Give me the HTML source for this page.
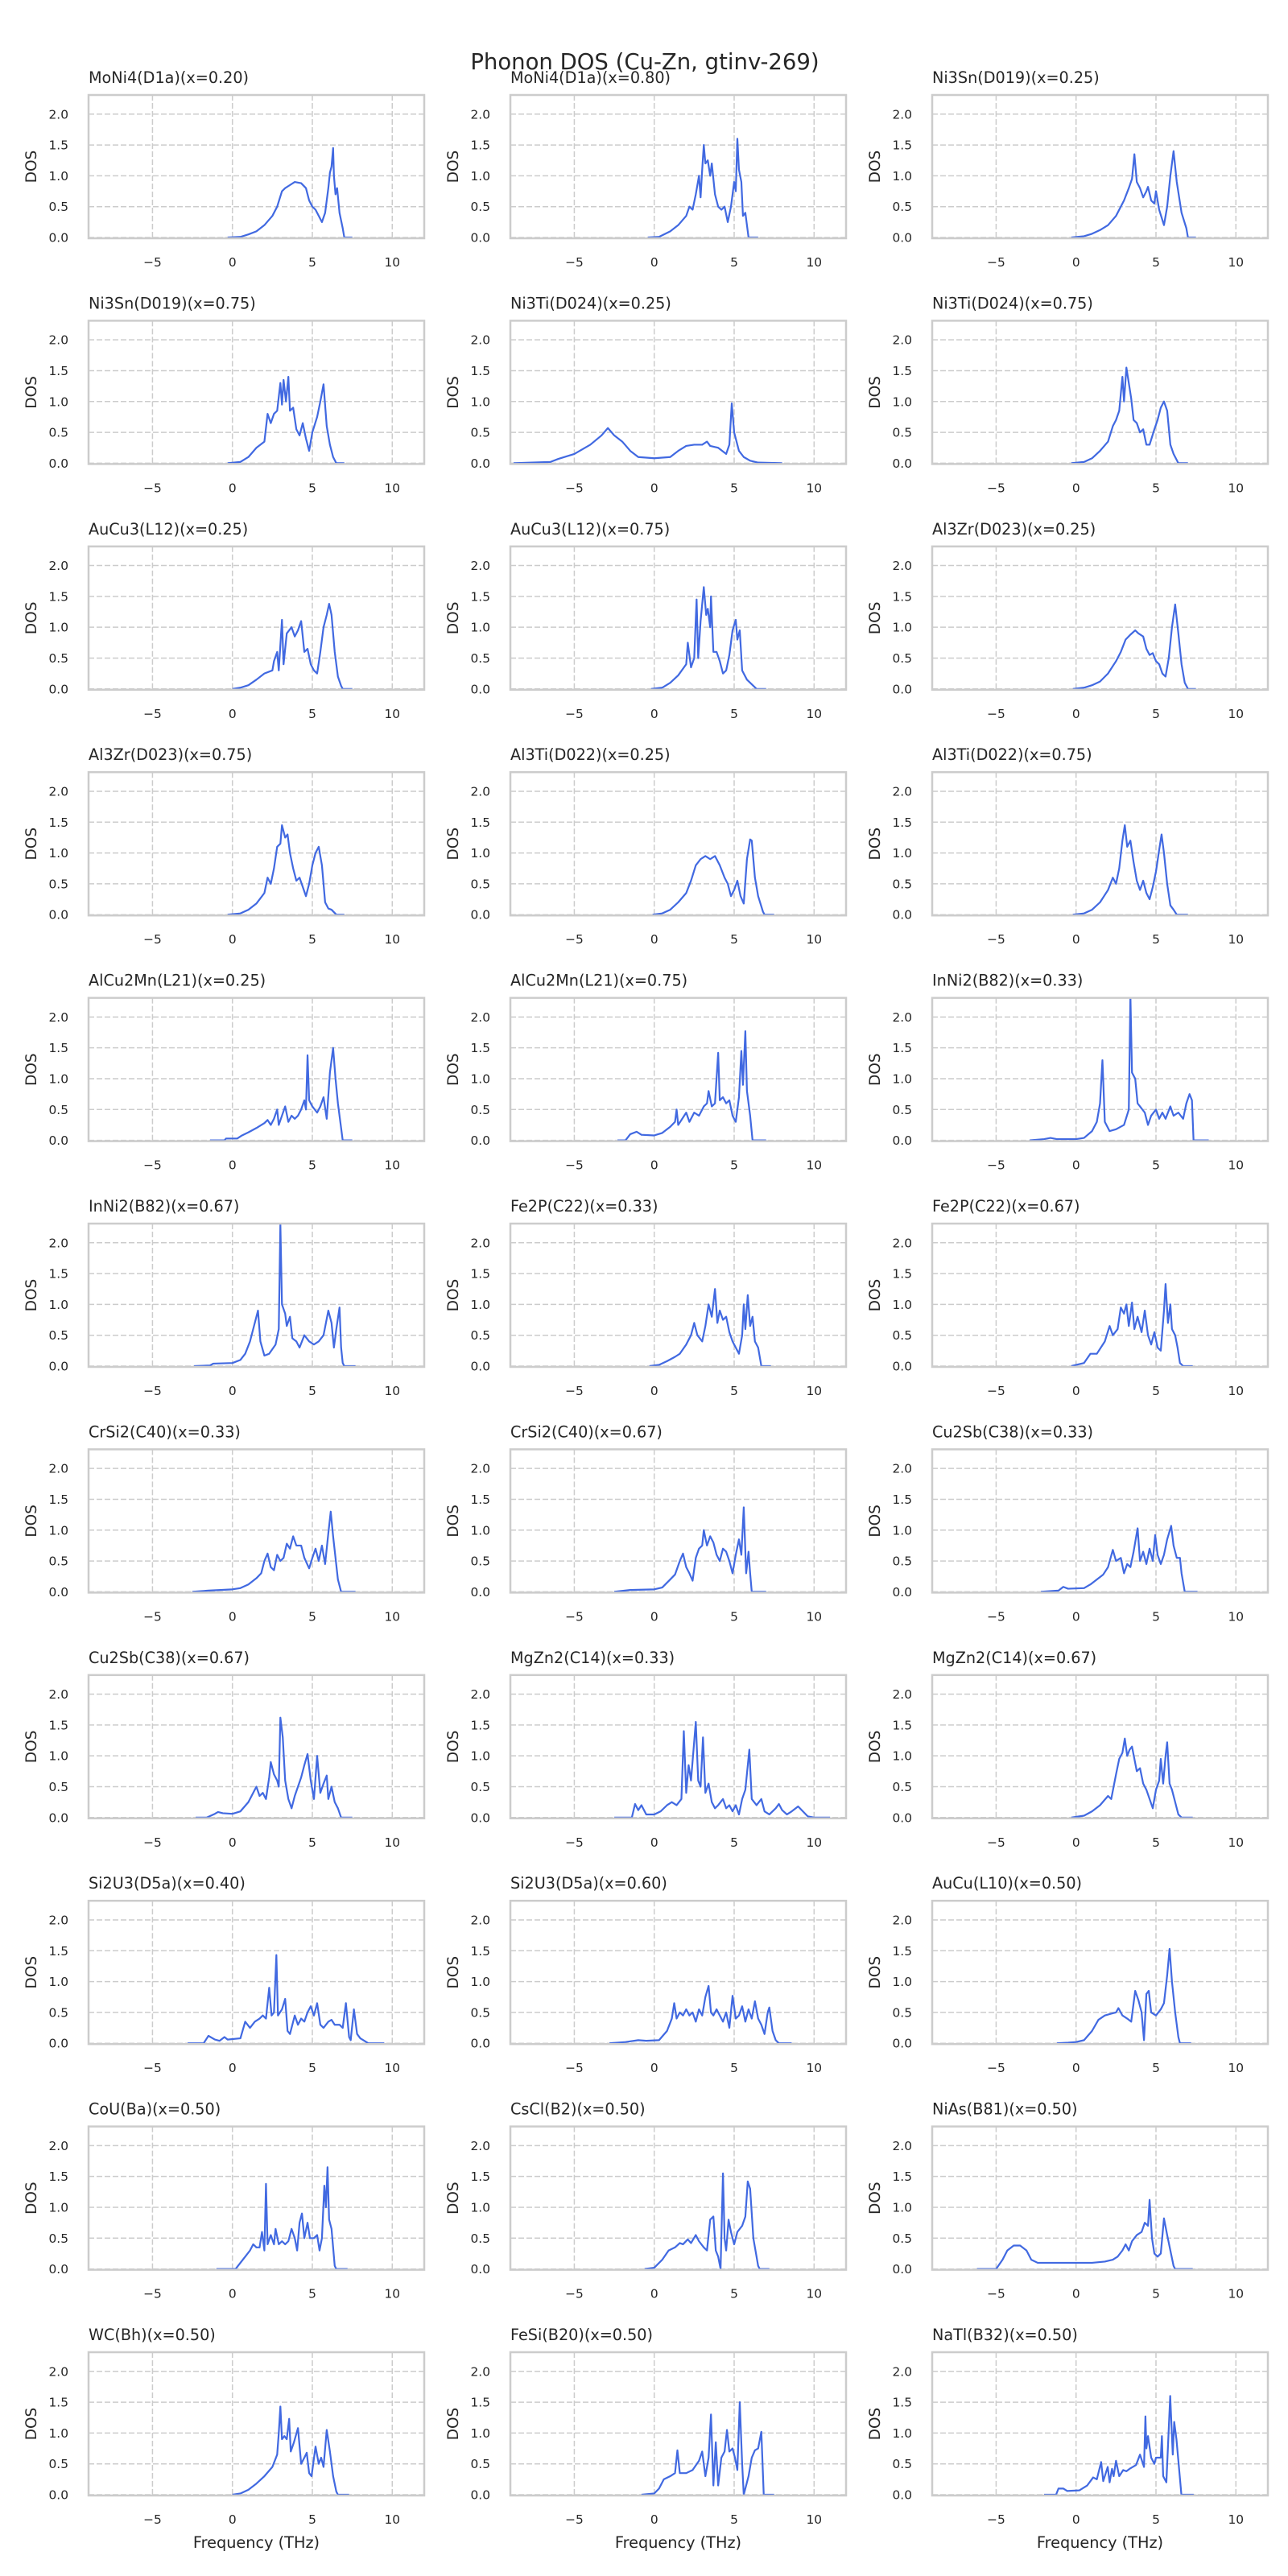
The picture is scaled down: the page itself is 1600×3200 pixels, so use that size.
<!DOCTYPE html>
<html><head><meta charset="utf-8"><style>
html,body{margin:0;padding:0;background:#fff;}
svg{display:block;}
text{font-family:"DejaVu Sans","Liberation Sans",sans-serif;fill:#262626;}
</style></head>
<body>
<svg id="fig" xmlns="http://www.w3.org/2000/svg" width="1600" height="3200" viewBox="0 0 1600 3200">
<rect x="0" y="0" width="1600" height="3200" fill="#fff"/>
<text x="801" y="86" text-anchor="middle" font-size="27.5">Phonon DOS (Cu-Zn, gtinv-269)</text>
</svg>
<script>
const titles = ["MoNi4(D1a)(x=0.20)","MoNi4(D1a)(x=0.80)","Ni3Sn(D019)(x=0.25)","Ni3Sn(D019)(x=0.75)","Ni3Ti(D024)(x=0.25)","Ni3Ti(D024)(x=0.75)","AuCu3(L12)(x=0.25)","AuCu3(L12)(x=0.75)","Al3Zr(D023)(x=0.25)","Al3Zr(D023)(x=0.75)","Al3Ti(D022)(x=0.25)","Al3Ti(D022)(x=0.75)","AlCu2Mn(L21)(x=0.25)","AlCu2Mn(L21)(x=0.75)","InNi2(B82)(x=0.33)","InNi2(B82)(x=0.67)","Fe2P(C22)(x=0.33)","Fe2P(C22)(x=0.67)","CrSi2(C40)(x=0.33)","CrSi2(C40)(x=0.67)","Cu2Sb(C38)(x=0.33)","Cu2Sb(C38)(x=0.67)","MgZn2(C14)(x=0.33)","MgZn2(C14)(x=0.67)","Si2U3(D5a)(x=0.40)","Si2U3(D5a)(x=0.60)","AuCu(L10)(x=0.50)","CoU(Ba)(x=0.50)","CsCl(B2)(x=0.50)","NiAs(B81)(x=0.50)","WC(Bh)(x=0.50)","FeSi(B20)(x=0.50)","NaTl(B32)(x=0.50)"];
const xTicks = [-5,0,5,10];
const xTickLabels = ["\u22125","0","5","10"];
const yTicks = [0,0.5,1,1.5,2];
const yTickLabels = ["0.0","0.5","1.0","1.5","2.0"];
const xDomain = [-9,12];
const yDomain = [-0.013,2.31];

const p01=[[-0.3,0],[0.5,0.01],[1,0.05],[1.5,0.1],[2,0.2],[2.5,0.35],[2.8,0.5],[3.1,0.75],[3.3,0.8],[3.6,0.85],[3.9,0.9],[4.3,0.88],[4.6,0.8],[4.8,0.6],[5.0,0.5],[5.2,0.45],[5.5,0.3],[5.6,0.25],[5.8,0.4],[6.0,0.8],[6.1,1.05],[6.2,1.15],[6.3,1.45],[6.35,1.0],[6.45,0.7],[6.55,0.8],[6.7,0.4],[6.9,0.15],[7.0,0],[7.5,0]];
const p02=[[-0.4,0],[0.3,0.01],[1,0.1],[1.5,0.2],[2,0.35],[2.2,0.5],[2.4,0.45],[2.6,0.7],[2.8,1.0],[2.9,0.65],[3.0,1.1],[3.1,1.5],[3.2,1.2],[3.35,1.25],[3.5,1.0],[3.6,1.2],[3.8,0.7],[4.0,0.5],[4.2,0.45],[4.4,0.5],[4.6,0.25],[4.8,0.5],[5.0,0.9],[5.1,0.75],[5.2,1.6],[5.3,1.1],[5.45,0.9],[5.55,0.35],[5.7,0.4],[5.9,0],[6.5,0]];
const p03=[[-0.3,0],[0.5,0.02],[1,0.06],[1.5,0.12],[2,0.2],[2.5,0.35],[3,0.6],[3.3,0.8],[3.5,0.95],[3.65,1.35],[3.8,0.9],[4.0,0.8],[4.2,0.65],[4.4,0.75],[4.5,0.82],[4.7,0.6],[4.9,0.55],[5.0,0.75],[5.2,0.45],[5.5,0.2],[5.7,0.5],[5.9,1.0],[6.1,1.4],[6.3,0.9],[6.6,0.4],[6.9,0.15],[7.0,0],[7.5,0]];
const p04=[[-0.3,0],[0.5,0.02],[1,0.1],[1.5,0.25],[2,0.35],[2.2,0.8],[2.4,0.65],[2.6,0.8],[2.8,0.85],[3.0,1.3],[3.1,0.95],[3.2,1.35],[3.35,1.0],[3.5,1.4],[3.6,0.85],[3.8,0.9],[4.0,0.55],[4.2,0.45],[4.4,0.65],[4.6,0.4],[4.8,0.2],[5.0,0.5],[5.3,0.75],[5.5,1.0],[5.7,1.28],[5.9,0.6],[6.1,0.3],[6.3,0.1],[6.5,0],[7,0]];
const p05=[[-8.8,0],[-6.5,0.02],[-6,0.07],[-5,0.15],[-4,0.3],[-3.3,0.45],[-2.9,0.57],[-2.5,0.45],[-2,0.35],[-1.5,0.2],[-1,0.1],[0,0.08],[1,0.1],[1.5,0.2],[2,0.28],[2.5,0.3],[3,0.3],[3.3,0.35],[3.5,0.28],[4,0.25],[4.5,0.15],[4.7,0.3],[4.85,0.97],[5.0,0.5],[5.3,0.2],[5.6,0.1],[6,0.04],[6.5,0.01],[8,0]];
const p06=[[-0.3,0],[0.5,0.02],[1,0.08],[1.5,0.2],[2,0.35],[2.3,0.6],[2.5,0.7],[2.7,0.85],[2.9,1.4],[3.0,1.0],[3.15,1.55],[3.3,1.3],[3.45,1.05],[3.6,0.7],[3.8,0.65],[4.0,0.5],[4.2,0.55],[4.4,0.3],[4.6,0.3],[4.9,0.55],[5.1,0.7],[5.3,0.9],[5.5,1.0],[5.7,0.85],[5.9,0.3],[6.1,0.15],[6.4,0],[7,0]];
const p07=[[0,0],[0.5,0.02],[1,0.06],[1.5,0.15],[2,0.25],[2.5,0.3],[2.6,0.45],[2.8,0.6],[2.9,0.3],[3.1,1.12],[3.2,0.4],[3.4,0.9],[3.7,1.0],[3.9,0.85],[4.1,0.95],[4.3,1.1],[4.5,0.6],[4.7,0.65],[4.9,0.4],[5.1,0.3],[5.3,0.25],[5.5,0.6],[5.7,1.0],[5.9,1.2],[6.05,1.38],[6.2,1.2],[6.4,0.6],[6.6,0.2],[6.8,0.05],[6.9,0],[7.5,0]];
const p08=[[-0.2,0],[0.5,0.02],[1,0.1],[1.5,0.22],[2,0.4],[2.1,0.75],[2.3,0.35],[2.5,0.5],[2.65,1.45],[2.75,0.5],[2.9,1.1],[3.1,1.65],[3.25,1.2],[3.35,1.3],[3.5,1.0],[3.55,1.5],[3.7,0.6],[3.9,0.6],[4.1,0.45],[4.3,0.25],[4.5,0.3],[4.7,0.55],[4.9,0.95],[5.1,1.12],[5.2,0.8],[5.35,0.95],[5.5,0.3],[5.8,0.15],[6.2,0.05],[6.4,0],[7,0]];
const p09=[[-0.2,0],[0.5,0.02],[1,0.06],[1.5,0.12],[2,0.25],[2.5,0.45],[2.8,0.6],[3.1,0.8],[3.4,0.88],[3.7,0.95],[3.9,0.9],[4.2,0.85],[4.4,0.65],[4.6,0.55],[4.8,0.58],[5.0,0.45],[5.2,0.4],[5.4,0.25],[5.6,0.2],[5.8,0.5],[6.0,1.0],[6.2,1.37],[6.4,0.9],[6.6,0.4],[6.8,0.1],[7.0,0],[7.5,0]];
const p10=[[-0.3,0],[0.5,0.02],[1,0.08],[1.5,0.18],[2,0.35],[2.2,0.6],[2.4,0.5],[2.6,0.75],[2.8,1.1],[3.0,1.15],[3.1,1.45],[3.3,1.25],[3.45,1.3],[3.6,1.0],[3.8,0.75],[4.0,0.55],[4.2,0.6],[4.4,0.45],[4.6,0.3],[4.8,0.5],[5.0,0.8],[5.2,1.0],[5.4,1.1],[5.6,0.8],[5.8,0.2],[6.0,0.1],[6.2,0.08],[6.5,0],[7,0]];
const p11=[[-0.1,0],[0.5,0.02],[1,0.08],[1.5,0.2],[2,0.35],[2.3,0.55],[2.6,0.8],[2.9,0.9],[3.2,0.95],[3.5,0.9],[3.8,0.95],[4.1,0.8],[4.4,0.6],[4.6,0.5],[4.8,0.3],[5.0,0.4],[5.2,0.55],[5.4,0.3],[5.6,0.18],[5.8,0.9],[6.0,1.22],[6.1,1.2],[6.3,0.6],[6.5,0.3],[6.8,0.05],[6.9,0],[7.5,0]];
const p12=[[-0.2,0],[0.5,0.02],[1,0.08],[1.5,0.2],[2,0.4],[2.3,0.6],[2.5,0.5],[2.7,0.75],[2.9,1.2],[3.05,1.45],[3.2,1.1],[3.4,1.2],[3.6,0.85],[3.8,0.55],[4.0,0.4],[4.2,0.55],[4.4,0.35],[4.6,0.25],[4.8,0.45],[5.0,0.7],[5.2,1.05],[5.35,1.3],[5.5,1.0],[5.7,0.5],[5.9,0.15],[6.1,0.08],[6.3,0],[7,0]];
const p13=[[-1.4,0],[-0.5,0],[-0.4,0.03],[0.3,0.03],[0.6,0.08],[1,0.13],[1.5,0.2],[2,0.28],[2.2,0.33],[2.4,0.25],[2.6,0.35],[2.8,0.5],[2.9,0.25],[3.1,0.4],[3.3,0.55],[3.5,0.3],[3.7,0.4],[3.9,0.35],[4.1,0.4],[4.3,0.5],[4.5,0.65],[4.6,0.5],[4.7,1.38],[4.8,0.65],[5.0,0.55],[5.3,0.45],[5.5,0.55],[5.7,0.7],[5.9,0.35],[6.1,1.1],[6.3,1.5],[6.45,1.0],[6.6,0.6],[6.8,0.2],[6.9,0],[7.5,0]];
const p14=[[-2.3,0],[-1.8,0],[-1.5,0.1],[-1.1,0.14],[-0.8,0.09],[0,0.08],[0.5,0.12],[1,0.22],[1.3,0.3],[1.4,0.5],[1.5,0.25],[2.0,0.45],[2.2,0.3],[2.5,0.45],[2.8,0.4],[3.1,0.55],[3.3,0.6],[3.4,0.8],[3.6,0.55],[3.8,0.6],[4.0,1.42],[4.1,0.65],[4.3,0.7],[4.5,0.6],[4.7,0.65],[4.9,0.4],[5.1,0.3],[5.3,0.7],[5.45,1.45],[5.55,0.9],[5.7,1.77],[5.8,0.8],[6.0,0.4],[6.15,0],[7,0]];
const p15=[[-2.9,0],[-2.0,0.02],[-1.6,0.04],[-1.2,0.02],[0,0.02],[0.5,0.04],[1,0.15],[1.3,0.3],[1.5,0.6],[1.65,1.3],[1.8,0.3],[2.1,0.15],[2.5,0.18],[3.0,0.25],[3.3,0.5],[3.4,2.35],[3.5,1.1],[3.7,1.0],[3.85,0.6],[4.0,0.55],[4.3,0.45],[4.5,0.25],[4.7,0.4],[5.0,0.5],[5.2,0.35],[5.4,0.45],[5.6,0.35],[5.9,0.55],[6.1,0.4],[6.4,0.45],[6.7,0.35],[6.9,0.6],[7.1,0.75],[7.25,0.65],[7.35,0],[8.3,0]];
const p16=[[-2.4,0],[-1.4,0.01],[-1.2,0.04],[0,0.05],[0.5,0.1],[0.8,0.2],[1.1,0.4],[1.3,0.6],[1.6,0.9],[1.75,0.4],[2.0,0.17],[2.3,0.2],[2.7,0.35],[2.9,0.6],[3.0,2.3],[3.1,1.0],[3.3,0.85],[3.4,0.65],[3.6,0.8],[3.75,0.45],[4.0,0.4],[4.2,0.3],[4.5,0.5],[4.8,0.4],[5.1,0.35],[5.4,0.4],[5.7,0.5],[6.0,0.9],[6.2,0.7],[6.35,0.3],[6.5,0.6],[6.7,0.95],[6.8,0.3],[6.9,0.05],[7.0,0],[7.7,0]];
const p17=[[-0.3,0],[0.3,0.02],[0.8,0.08],[1.3,0.15],[1.6,0.2],[2.0,0.35],[2.3,0.5],[2.5,0.7],[2.7,0.5],[3.0,0.4],[3.2,0.65],[3.4,1.0],[3.6,0.8],[3.8,1.25],[3.95,0.7],[4.1,0.9],[4.3,0.75],[4.5,0.8],[4.7,0.55],[4.9,0.4],[5.1,0.3],[5.3,0.2],[5.5,0.5],[5.6,1.0],[5.7,0.6],[5.85,1.15],[6.0,0.65],[6.15,0.8],[6.3,0.4],[6.5,0.3],[6.7,0],[7.3,0]];
const p18=[[-0.3,0],[0.5,0.05],[0.9,0.2],[1.3,0.2],[1.8,0.4],[2.1,0.65],[2.3,0.5],[2.6,0.6],[2.8,0.95],[3.0,0.85],[3.15,1.0],[3.3,0.65],[3.5,1.03],[3.65,0.6],[3.85,0.8],[4.1,0.55],[4.3,0.9],[4.5,0.5],[4.7,0.35],[4.9,0.55],[5.1,0.3],[5.3,0.25],[5.5,0.9],[5.6,1.33],[5.75,0.7],[5.9,1.0],[6.0,0.6],[6.2,0.5],[6.35,0.3],[6.5,0.05],[6.7,0],[7.3,0]];
const p19=[[-2.5,0],[-1.5,0.02],[0,0.04],[0.5,0.06],[1,0.12],[1.5,0.22],[1.8,0.3],[2.0,0.5],[2.2,0.62],[2.4,0.4],[2.6,0.35],[2.8,0.6],[3.0,0.5],[3.2,0.55],[3.4,0.78],[3.6,0.7],[3.8,0.9],[4.0,0.75],[4.3,0.75],[4.5,0.55],[4.8,0.38],[5.0,0.55],[5.2,0.7],[5.4,0.5],[5.6,0.75],[5.8,0.45],[6.0,0.95],[6.15,1.3],[6.3,0.9],[6.45,0.55],[6.6,0.2],[6.8,0],[7.7,0]];
const p20=[[-2.5,0],[-1.5,0.03],[0,0.04],[0.5,0.07],[1,0.2],[1.3,0.28],[1.6,0.5],[1.8,0.62],[2.0,0.4],[2.2,0.3],[2.4,0.18],[2.6,0.55],[2.8,0.7],[3.0,0.75],[3.1,1.0],[3.3,0.75],[3.5,0.9],[3.7,0.8],[3.9,0.6],[4.1,0.5],[4.3,0.7],[4.5,0.65],[4.7,0.5],[4.9,0.3],[5.1,0.6],[5.3,0.85],[5.45,0.6],[5.6,1.37],[5.75,0.3],[5.9,0.65],[6.0,0.3],[6.1,0],[7,0]];
const p21=[[-2.2,0],[-1.1,0.02],[-0.8,0.08],[-0.5,0.05],[0.5,0.06],[0.9,0.12],[1.3,0.2],[1.7,0.28],[2.0,0.4],[2.3,0.68],[2.5,0.5],[2.8,0.55],[3.0,0.3],[3.2,0.45],[3.4,0.4],[3.6,0.65],[3.85,1.03],[4.0,0.5],[4.2,0.65],[4.4,0.45],[4.6,0.7],[4.8,0.5],[4.95,0.92],[5.1,0.6],[5.3,0.45],[5.5,0.6],[5.7,0.85],[5.95,1.07],[6.1,0.75],[6.3,0.55],[6.5,0.55],[6.6,0.3],[6.8,0],[7.6,0]];
const p22=[[-2.3,0],[-1.6,0],[-1.1,0.06],[-0.9,0.09],[-0.6,0.07],[0,0.06],[0.5,0.1],[1,0.25],[1.3,0.4],[1.5,0.5],[1.7,0.35],[1.9,0.4],[2.1,0.3],[2.3,0.65],[2.4,0.9],[2.6,0.7],[2.8,0.6],[2.9,0.5],[3.0,1.62],[3.15,1.3],[3.3,0.6],[3.5,0.3],[3.7,0.15],[3.9,0.35],[4.1,0.5],[4.3,0.65],[4.5,0.85],[4.7,1.03],[4.9,0.6],[5.1,0.3],[5.3,1.0],[5.5,0.4],[5.7,0.55],[5.9,0.68],[6.0,0.3],[6.2,0.5],[6.4,0.25],[6.6,0.15],[6.8,0],[7.5,0]];
const p23=[[-2.5,0],[-1.4,0],[-1.2,0.22],[-1.0,0.12],[-0.8,0.2],[-0.5,0.05],[0,0.05],[0.4,0.1],[0.8,0.2],[1.1,0.25],[1.4,0.2],[1.7,0.3],[1.85,1.4],[2.0,0.4],[2.15,0.85],[2.3,0.6],[2.6,1.55],[2.75,0.6],[2.9,0.5],[3.05,1.3],[3.2,0.4],[3.4,0.55],[3.6,0.25],[3.8,0.15],[4.0,0.2],[4.3,0.3],[4.5,0.15],[4.7,0.2],[4.9,0.1],[5.1,0.2],[5.3,0.05],[5.5,0.3],[5.7,0.45],[5.95,1.1],[6.1,0.3],[6.4,0.2],[6.7,0.3],[6.9,0.1],[7.2,0.05],[7.6,0.15],[7.8,0.22],[8.0,0.12],[8.3,0.05],[8.6,0.1],[9.0,0.18],[9.3,0.1],[9.6,0.02],[10.0,0],[11,0]];
const p24=[[-0.3,0],[0.5,0.03],[1,0.1],[1.5,0.2],[2,0.35],[2.2,0.3],[2.5,0.7],[2.7,0.95],[2.9,1.05],[3.05,1.28],[3.2,1.0],[3.35,1.1],[3.5,1.15],[3.65,0.95],[3.8,0.75],[4.0,0.8],[4.2,0.55],[4.4,0.45],[4.6,0.3],[4.8,0.15],[5.0,0.45],[5.2,0.6],[5.3,0.95],[5.45,0.55],[5.6,1.0],[5.7,1.22],[5.85,0.55],[6.0,0.45],[6.2,0.25],[6.4,0.05],[6.6,0],[7.3,0]];
const p25=[[-2.8,0],[-1.8,0],[-1.6,0.08],[-1.5,0.12],[-1.1,0.06],[-0.8,0.04],[-0.5,0.1],[-0.3,0.06],[0.5,0.08],[0.8,0.35],[1.1,0.25],[1.4,0.35],[1.7,0.4],[1.9,0.45],[2.1,0.4],[2.3,0.9],[2.45,0.45],[2.6,0.5],[2.75,1.43],[2.85,0.45],[3.1,0.55],[3.3,0.72],[3.45,0.2],[3.6,0.15],[3.9,0.45],[4.1,0.3],[4.3,0.4],[4.5,0.35],[4.7,0.5],[4.9,0.6],[5.1,0.45],[5.3,0.65],[5.5,0.3],[5.7,0.25],[6.0,0.35],[6.2,0.38],[6.4,0.3],[6.7,0.3],[6.9,0.25],[7.1,0.65],[7.3,0.1],[7.4,0.05],[7.6,0.55],[7.8,0.15],[8.0,0.08],[8.5,0],[9.5,0]];
const p26=[[-2.8,0],[-1.8,0.02],[-1.0,0.05],[-0.5,0.04],[0.3,0.05],[0.8,0.2],[1.1,0.4],[1.25,0.65],[1.4,0.4],[1.6,0.5],[1.8,0.45],[2.0,0.55],[2.2,0.45],[2.4,0.5],[2.6,0.35],[2.8,0.55],[3.0,0.45],[3.2,0.75],[3.4,0.93],[3.55,0.5],[3.7,0.45],[3.9,0.55],[4.1,0.45],[4.3,0.35],[4.5,0.5],[4.7,0.25],[4.9,0.77],[5.1,0.4],[5.3,0.45],[5.5,0.6],[5.7,0.35],[5.9,0.55],[6.1,0.4],[6.3,0.68],[6.5,0.4],[6.7,0.3],[6.9,0.15],[7.1,0.5],[7.2,0.58],[7.4,0.2],[7.6,0.05],[7.8,0],[8.6,0]];
const p27=[[-1.2,0],[-0.5,0.01],[0,0.02],[0.5,0.05],[1,0.2],[1.4,0.38],[1.8,0.45],[2.2,0.48],[2.5,0.5],[2.65,0.57],[2.9,0.45],[3.2,0.4],[3.45,0.35],[3.7,0.85],[3.9,0.7],[4.1,0.5],[4.25,0.05],[4.4,0.8],[4.55,0.85],[4.7,0.5],[5.0,0.45],[5.3,0.55],[5.5,0.65],[5.7,1.1],[5.85,1.53],[6.0,1.0],[6.2,0.5],[6.4,0.1],[6.5,0],[7.2,0]];
const p28=[[-1.0,0],[0.2,0],[0.5,0.1],[0.8,0.2],[1.1,0.3],[1.3,0.4],[1.5,0.35],[1.7,0.35],[1.85,0.6],[2.0,0.3],[2.1,1.38],[2.2,0.4],[2.4,0.55],[2.6,0.4],[2.7,0.65],[2.9,0.4],[3.1,0.45],[3.3,0.4],[3.5,0.45],[3.7,0.65],[3.9,0.5],[4.05,0.3],[4.2,0.75],[4.35,0.9],[4.5,0.5],[4.7,0.75],[4.85,0.5],[5.1,0.5],[5.3,0.55],[5.45,0.3],[5.6,0.5],[5.75,1.35],[5.85,1.0],[5.95,1.65],[6.05,0.8],[6.2,0.65],[6.4,0.05],[6.5,0],[7.2,0]];
const p29=[[-0.6,0],[0,0.02],[0.5,0.15],[0.9,0.3],[1.3,0.35],[1.6,0.42],[1.8,0.4],[2.1,0.48],[2.3,0.42],[2.6,0.55],[2.8,0.45],[3.1,0.35],[3.3,0.3],[3.5,0.8],[3.7,0.85],[3.85,0.3],[4.0,0.2],[4.15,0],[4.3,1.55],[4.4,0.5],[4.5,0.3],[4.65,0.8],[4.8,0.6],[5.0,0.4],[5.2,0.6],[5.5,0.7],[5.7,0.85],[5.85,1.42],[6.0,1.3],[6.2,0.5],[6.5,0.05],[6.6,0],[7.2,0]];
const p30=[[-6.2,0],[-5.0,0],[-4.6,0.15],[-4.3,0.3],[-3.9,0.38],[-3.5,0.38],[-3.1,0.3],[-2.8,0.15],[-2.4,0.1],[-1,0.1],[0,0.1],[1,0.1],[1.8,0.12],[2.3,0.15],[2.6,0.2],[2.9,0.3],[3.1,0.4],[3.3,0.3],[3.5,0.45],[3.8,0.55],[4.1,0.6],[4.3,0.75],[4.5,0.7],[4.6,1.12],[4.75,0.5],[4.9,0.25],[5.1,0.2],[5.3,0.25],[5.5,0.82],[5.7,0.55],[5.9,0.3],[6.1,0.05],[6.2,0],[7.3,0]];
const p31=[[0,0],[0.5,0.02],[1,0.08],[1.5,0.18],[2,0.3],[2.5,0.45],[2.8,0.65],[2.9,1.0],[3.0,1.43],[3.1,0.9],[3.25,0.95],[3.4,0.9],[3.55,1.23],[3.65,0.7],[3.85,0.85],[4.1,1.08],[4.3,0.5],[4.5,0.6],[4.65,0.68],[4.8,0.35],[4.95,0.3],[5.2,0.78],[5.4,0.5],[5.55,0.6],[5.7,0.45],[5.9,1.05],[6.1,0.7],[6.3,0.3],[6.5,0.05],[6.6,0],[7.3,0]];
const p32=[[-0.8,0],[0,0.02],[0.3,0.1],[0.6,0.25],[1.0,0.3],[1.3,0.35],[1.45,0.72],[1.6,0.35],[2.0,0.35],[2.4,0.4],[2.8,0.55],[3.0,0.7],[3.2,0.3],[3.4,0.6],[3.55,1.3],[3.7,0.15],[3.85,0.85],[4.0,0.15],[4.2,0.6],[4.4,0.7],[4.55,1.05],[4.7,0.7],[4.9,0.75],[5.05,0.6],[5.2,0.4],[5.35,1.5],[5.5,0.5],[5.6,0],[5.9,0.3],[6.1,0.6],[6.3,0.72],[6.5,0.75],[6.7,1.02],[6.85,0],[7.5,0]];
const p33=[[-2.0,0],[-1.25,0],[-1.1,0.1],[-0.8,0.1],[-0.55,0.06],[0.2,0.07],[0.7,0.15],[1.07,0.28],[1.3,0.25],[1.57,0.53],[1.7,0.22],[1.98,0.45],[2.1,0.2],[2.25,0.42],[2.35,0.3],[2.5,0.55],[2.7,0.3],[2.95,0.4],[3.15,0.38],[3.35,0.42],[3.75,0.48],[4.0,0.65],[4.25,0.45],[4.34,1.27],[4.4,0.75],[4.5,0.95],[4.7,0.6],[4.9,0.5],[5.0,0.6],[5.3,0.6],[5.37,0.95],[5.45,0.3],[5.65,0.2],[5.89,1.6],[6.05,0.65],[6.14,1.18],[6.28,0.9],[6.59,0],[7.36,0]];
const panels=[p01,p02,p03,p04,p05,p06,p07,p08,p09,p10,p11,p12,p13,p14,p15,p16,p17,p18,p19,p20,p21,p22,p23,p24,p25,p26,p27,p28,p29,p30,p31,p32,p33];

const NS="http://www.w3.org/2000/svg";
const svg=document.getElementById('fig');
const AX_LEFT=[110,634,1158], AX_W=417, AX_TOP0=118, ROW_STEP=280.4, AX_H=178;
function mk(tag,attrs,parent){const e=document.createElementNS(NS,tag);for(const k in attrs)e.setAttribute(k,attrs[k]);(parent||svg).appendChild(e);return e;}
const defs=mk('defs',{});
panels.forEach((data,i)=>{
  const col=i%3,row=Math.floor(i/3);
  const L=AX_LEFT[col],T=AX_TOP0+row*ROW_STEP;
  const sx=v=>L+(v-xDomain[0])/(xDomain[1]-xDomain[0])*AX_W;
  const sy=v=>T+AX_H-(v-yDomain[0])/(yDomain[1]-yDomain[0])*AX_H;
  const g=mk('g',{});
  
  
  const cp=mk('clipPath',{id:'clip'+i},defs);
  mk('rect',{x:L,y:T,width:AX_W,height:AX_H},cp);
  const t=mk('text',{x:L,y:T-15,'font-size':19.2},g);
  t.textContent=titles[i];
  
  
  xTicks.forEach((v,k)=>{
    const ln=mk('line',{x1:sx(v),x2:sx(v),y1:T,y2:T+AX_H,stroke:'#cccccc','stroke-width':1.5,'stroke-dasharray':'7,3'},g);
    
    
    const tl=mk('text',{x:sx(v),y:T+AX_H+35,'font-size':15.4,'text-anchor':'middle'},g);
    tl.textContent=xTickLabels[k];
    
    
  });
  yTicks.forEach((v,k)=>{
    const ln=mk('line',{x1:L,x2:L+AX_W,y1:sy(v),y2:sy(v),stroke:'#cccccc','stroke-width':1.5,'stroke-dasharray':'7,3'},g);
    
    
    const tl=mk('text',{x:L-25,y:sy(v)+5.5,'font-size':15.4,'text-anchor':'end'},g);
    tl.textContent=yTickLabels[k];
    
    
  });
  const yl=mk('text',{x:0,y:0,'font-size':18.5,'text-anchor':'middle',transform:`translate(${L-65},${T+AX_H/2}) rotate(-90)`},g);
  yl.textContent='DOS';
  
  
  if(row===10){
    const xl=mk('text',{x:L+AX_W/2,y:T+AX_H+65,'font-size':19.3,'text-anchor':'middle'},g);
    xl.textContent='Frequency (THz)';
    
    
  }
  const pts=data.map(p=>sx(p[0]).toFixed(2)+','+sy(p[1]).toFixed(2)).join(' ');
  const pl=mk('polyline',{points:pts,fill:'none',stroke:'#4169e1','stroke-width':2.2,'stroke-linejoin':'round','clip-path':`url(#clip${i})`},g);
  
  
  const fr=mk('rect',{x:L,y:T,width:AX_W,height:AX_H,fill:'none',stroke:'#cccccc','stroke-width':2.5},g);
  
  
});
</script>
</body></html>
